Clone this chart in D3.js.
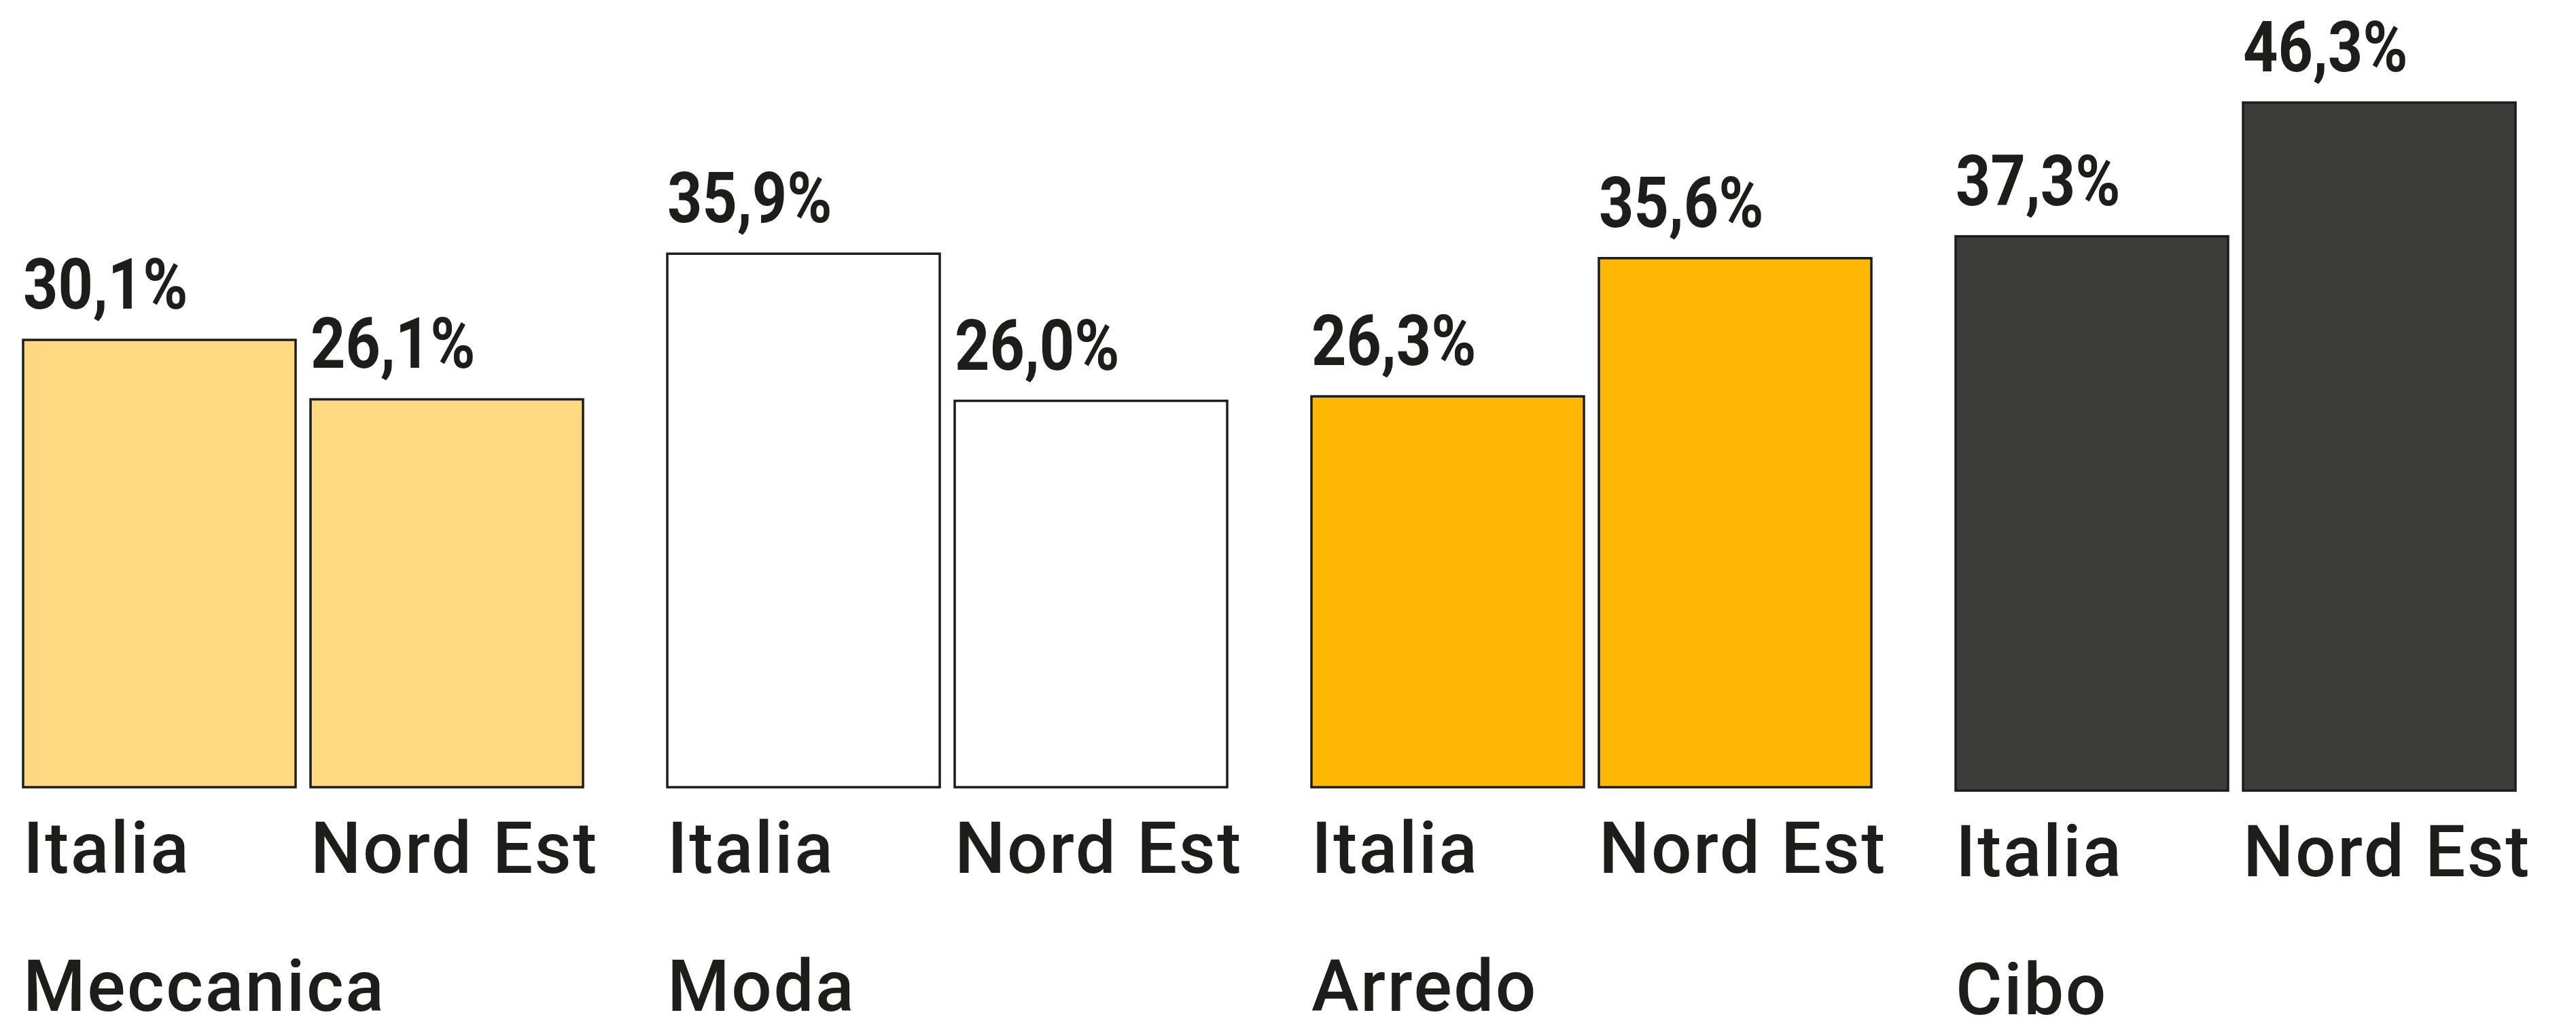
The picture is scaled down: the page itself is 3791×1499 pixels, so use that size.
<!DOCTYPE html>
<html lang="it">
  <head>
    <meta charset="utf-8" />
    <title>Quota per settore: Italia e Nord Est</title>
    <script src="https://d3js.org/d3.v7.min.js"></script>
    <style>
      html, body {
        margin: 0;
        padding: 0;
        background: #fff;
      }

      text {
        fill: #1d1d1b;
      }

      text.value {
        font-family: Roboto, "DejaVu Sans Condensed", sans-serif;
        font-weight: 700;
        font-size: 103px;
      }

      text.series, text.group {
        font-family: Roboto, "Noto Sans", sans-serif;
        font-weight: 500;
        font-size: 105px;
        letter-spacing: 2.5px;
      }

      rect.bar {
        stroke: #1d1d1b;
        stroke-width: 3.5px;
      }
    </style>
  </head>
  <body>
    <svg id="chart" width="3791" height="1499"></svg>

    <script>
      // --------------------------------------------------
      // Data
      // --------------------------------------------------
      const sectors = ["Meccanica", "Moda", "Arredo", "Cibo"];
      const areas = ["Italia", "Nord Est"];
      const italiaValues = [30.1, 35.9, 26.3, 37.3];
      const nordEstValues = [26.1, 26.0, 35.6, 46.3];
      const sectorColors = ["#ffd982", "#ffffff", "#ffb703", "#3c3c3b"];

      const rows = sectors.map((s, i) => ({
        sector: s,
        color: sectorColors[i],
        values: [
          { area: areas[0], value: italiaValues[i] },
          { area: areas[1], value: nordEstValues[i] }
        ]
      }));

      // --------------------------------------------------
      // Scales
      // --------------------------------------------------
      const svg = d3.select("#chart");
      const baseline = 1158;

      const x0 = d3
        .scaleBand()
        .domain(sectors)
        .range([34, 3702])
        .paddingInner(0.1308)
        .paddingOuter(0);

      const x1 = d3
        .scaleBand()
        .domain(areas)
        .range([0, x0.bandwidth()])
        .paddingInner(0.052);

      const y = d3
        .scaleLinear()
        .domain([0, 50])
        .range([baseline, baseline - 50 * 21.86]);

      // Cibo sits a few pixels lower in the original
      const groupShift = [0, 0, 0, 5];

      const it = d3.formatLocale({
        decimal: ",",
        thousands: ".",
        grouping: [3],
        currency: ["", "€"]
      });
      const fmt = it.format(".1f");

      // --------------------------------------------------
      // Groups
      // --------------------------------------------------
      const group = svg
        .selectAll("g.sector")
        .data(rows)
        .enter()
        .append("g")
        .attr("class", "sector")
        .attr("transform", (d, i) => `translate(${x0(d.sector)},${groupShift[i]})`);

      const cell = group
        .selectAll("g.cell")
        .data((d) => d.values.map((v) => ({ ...v, color: d.color })))
        .enter()
        .append("g")
        .attr("class", "cell");

      cell
        .append("rect")
        .attr("class", "bar")
        .attr("x", (d) => x1(d.area))
        .attr("y", (d) => y(d.value))
        .attr("width", x1.bandwidth())
        .attr("height", (d) => y(0) - y(d.value))
        .style("fill", (d) => d.color);

      // value labels: condensed look by squeezing horizontally
      cell
        .append("text")
        .attr("class", "value")
        .attr("transform", (d) => `translate(${x1(d.area)},${y(d.value) - 46}) scale(0.87,1)`)
        .text((d) => fmt(d.value) + "%");

      cell
        .append("text")
        .attr("class", "series")
        .attr("x", (d) => x1(d.area))
        .attr("y", baseline + 126)
        .text((d) => d.area);

      group
        .append("text")
        .attr("class", "group")
        .attr("x", 0)
        .attr("y", baseline + 329)
        .text((d) => d.sector);
    </script>
  </body>
</html>
